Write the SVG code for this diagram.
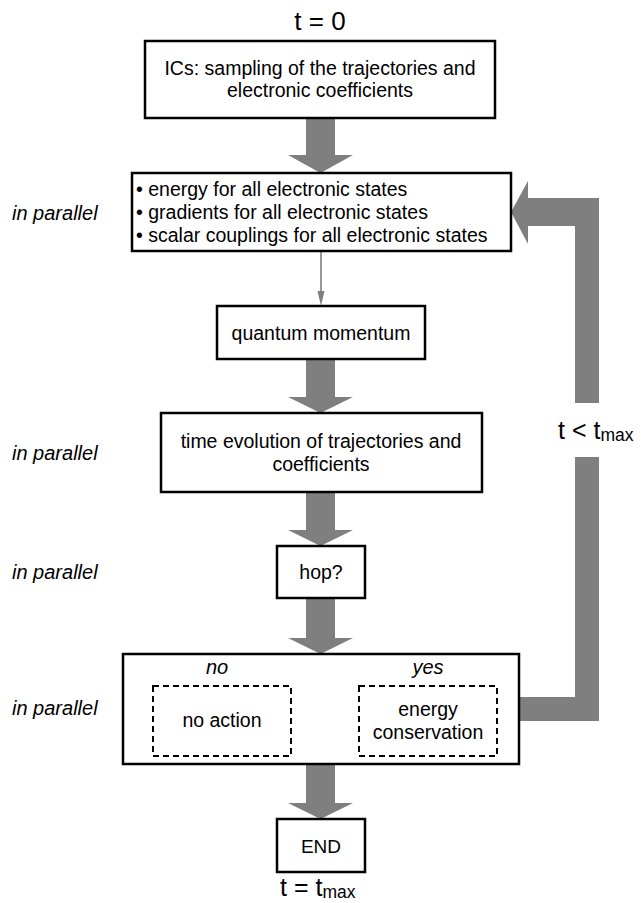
<svg xmlns="http://www.w3.org/2000/svg" width="641" height="903" viewBox="0 0 641 903">
<style>
text{font-family:"Liberation Sans",Arial,Helvetica,sans-serif;font-size:19.5px;fill:#000}
.c{text-anchor:middle}
.i{font-style:italic;font-size:20px}
.box{fill:#fff;stroke:#000;stroke-width:2.5}
.dash{fill:none;stroke:#000;stroke-width:2;stroke-dasharray:6 4}
.big{fill:#7f7f7f;stroke:none}
</style>
<rect width="641" height="903" fill="#fff"/>
<g id="connectors">
<polygon class="big" points="306,118 335,118 335,155 353,155 320.5,173 288,155 306,155"/>
<line x1="321" y1="251" x2="321" y2="292" stroke="#7f7f7f" stroke-width="1.6"/>
<polygon points="317.5,291 324.5,291 321,306" fill="#7f7f7f"/>
<polygon class="big" points="306,359 335,359 335,397 353,397 320.5,413 288,397 306,397"/>
<polygon class="big" points="306,492 335,492 335,530 353,530 320.5,546 288,530 306,530"/>
<polygon class="big" points="306,598 335,598 335,638 353,638 320.5,654 288,638 306,638"/>
<polygon class="big" points="306,764 335,764 335,803 353,803 320.5,819 288,803 306,803"/>
<polygon class="big" points="511,212 528,181 528,198 599,198 599,403 575,403 575,226 528,226 528,244"/>
<polygon class="big" points="575,457 599,457 599,721 519,721 519,697 575,697"/>
</g>
<g id="label-t0"><text class="c" x="320" y="30" style="font-size:26px">t = 0</text></g>
<g id="node-ics">
<rect class="box" x="145" y="41" width="350" height="77"/>
<text class="c" x="320" y="75">ICs: sampling of the trajectories and</text>
<text class="c" x="320" y="97">electronic coefficients</text>
</g>
<g id="node-electronic">
<rect class="box" x="132" y="173" width="379" height="78"/>
<text x="136" y="196">• energy for all electronic states</text>
<text x="136" y="219">• gradients for all electronic states</text>
<text x="136" y="242">• scalar couplings for all electronic states</text>
</g>
<g id="node-qm">
<rect class="box" x="217" y="306" width="208" height="53"/>
<text class="c" x="321" y="340">quantum momentum</text>
</g>
<g id="node-evolution">
<rect class="box" x="161" y="413" width="321" height="79"/>
<text class="c" x="321" y="448">time evolution of trajectories and</text>
<text class="c" x="321" y="471">coefficients</text>
</g>
<g id="node-hop">
<rect class="box" x="277" y="546" width="88" height="52"/>
<text class="c" x="321" y="579">hop?</text>
</g>
<g id="node-branch">
<rect class="box" x="123" y="654" width="396" height="110"/>
<text class="c i" x="217" y="674">no</text>
<text class="c i" x="428" y="674">yes</text>
<g id="node-noaction">
<rect class="dash" x="153" y="686" width="138" height="70"/>
<text class="c" x="222" y="727">no action</text>
</g>
<g id="node-energycons">
<rect class="dash" x="359" y="686" width="138" height="70"/>
<text class="c" x="428" y="716">energy</text>
<text class="c" x="428" y="739">conservation</text>
</g>
</g>
<g id="node-end">
<rect class="box" x="277" y="819" width="88" height="53"/>
<text class="c" x="321" y="853" style="font-size:19px">END</text>
</g>
<g id="labels">
<text class="i" x="12" y="220">in parallel</text>
<text class="i" x="12" y="460">in parallel</text>
<text class="i" x="12" y="579">in parallel</text>
<text class="i" x="12" y="715">in parallel</text>
<text x="558" y="439" style="font-size:25px">t &lt; t<tspan style="font-size:17.5px" dy="2">max</tspan></text>
<text x="280" y="896" style="font-size:25px">t = t<tspan style="font-size:17.5px" dy="2">max</tspan></text>
</g>
</svg>
